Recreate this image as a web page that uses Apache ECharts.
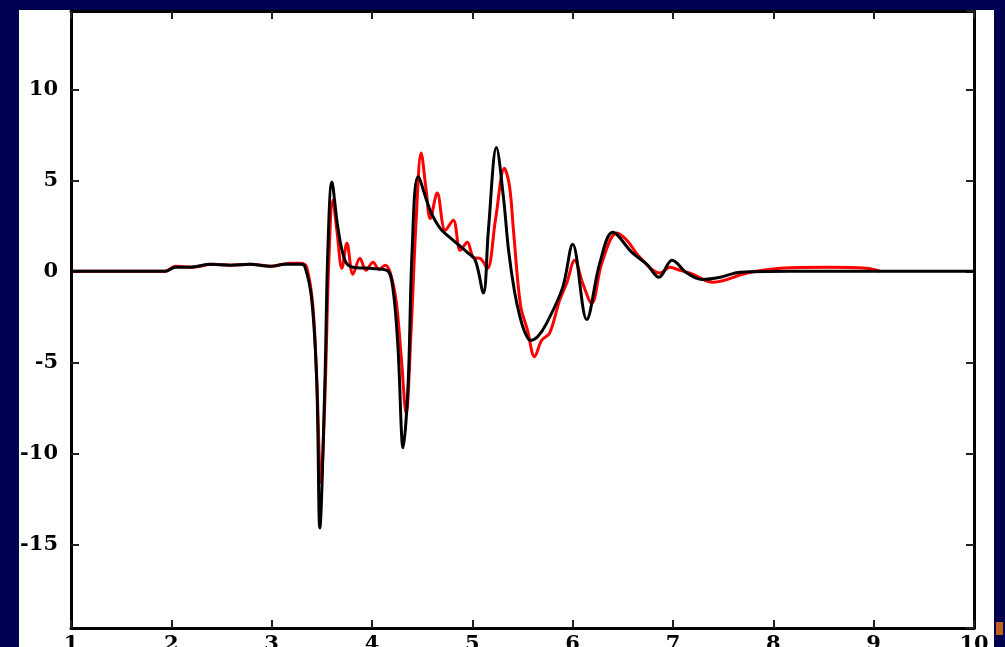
<!DOCTYPE html>
<html>
<head>
<meta charset="utf-8">
<script src="https://cdn.jsdelivr.net/npm/echarts@6/dist/echarts.min.js"></script>
<style>
html,body{margin:0;padding:0;background:#000050;}
#c{width:1005px;height:647px;}
</style>
</head>
<body>
<div id="c"></div>
<script>
var xBlack = [1.00,1.94,2.04,2.19,2.39,2.58,2.78,2.98,3.13,3.28,3.33,3.40,3.45,3.48,3.53,3.56,3.60,3.66,3.73,3.81,3.98,4.15,4.21,4.26,4.31,4.36,4.40,4.46,4.58,4.68,4.81,4.95,5.03,5.11,5.16,5.24,5.31,5.36,5.42,5.47,5.52,5.58,5.65,5.74,5.90,6.00,6.14,6.27,6.40,6.59,6.74,6.86,6.99,7.14,7.29,7.47,7.67,8.17,10.00];
var yBlack = [0,0,0.22,0.22,0.38,0.33,0.38,0.27,0.38,0.38,0.27,-1.6,-6.2,-14.1,-6.2,1.15,4.9,2.4,0.6,0.22,0.16,0.05,-1.0,-4.3,-9.7,-6.2,1.15,5.2,3.35,2.36,1.7,1.04,0.6,-1.2,2.25,6.8,4.07,1.2,-1.1,-2.4,-3.3,-3.8,-3.6,-2.86,-0.9,1.48,-2.65,0.44,2.14,1.04,0.38,-0.33,0.6,-0.1,-0.45,-0.33,-0.05,0,0];

var xRed = [1.00,1.94,2.04,2.21,2.41,2.60,2.80,3.00,3.18,3.30,3.35,3.41,3.45,3.49,3.53,3.57,3.61,3.65,3.70,3.75,3.81,3.88,3.94,4.01,4.07,4.13,4.18,4.24,4.29,4.34,4.39,4.44,4.49,4.54,4.58,4.65,4.73,4.81,4.88,4.95,5.01,5.08,5.15,5.23,5.32,5.37,5.41,5.48,5.55,5.62,5.69,5.77,5.87,5.94,6.02,6.10,6.19,6.29,6.44,6.54,6.67,6.87,6.97,7.07,7.17,7.40,7.74,8.07,8.56,8.93,9.06];
var yRed = [0,0,0.27,0.22,0.38,0.33,0.38,0.27,0.44,0.44,0.22,-1.87,-6.0,-11.6,-7.1,0.6,3.9,2.25,0.16,1.54,-0.16,0.71,0.05,0.5,0.1,0.33,-0.05,-1.6,-4.6,-7.8,-3.2,2.8,6.5,4.45,2.9,4.3,2.25,2.8,1.15,1.6,0.77,0.7,0.16,2.8,5.66,4.7,2.25,-1.87,-3.24,-4.7,-3.8,-3.4,-1.6,-0.66,0.6,-0.66,-1.76,0.44,2.1,1.7,0.77,-0.1,0.22,0.05,-0.1,-0.6,-0.1,0.16,0.22,0.16,0];

var xTicks = [1,2,3,4,5,6,7,8,9,10];
var yTicks = [-15,-10,-5,0,5,10];

function zip(xs, ys){ var o=[]; for(var i=0;i<xs.length;i++){ o.push([xs[i], ys[i]]); } return o; }

var chart = echarts.init(document.getElementById('c'), null, {renderer:'canvas'});
var labelFont = {fontFamily:'DejaVu Serif', fontWeight:'bold', fontSize:21, color:'#000'};
function axisLine(){ return {show:true, onZero:false, lineStyle:{color:'#000', width:3}}; }
function axisTick(){ return {show:true, inside:true, length:8, lineStyle:{color:'#222', width:2}}; }
chart.setOption({
  backgroundColor:'#000050',
  animation:false,
  graphic:[
    {type:'rect', z:-10, shape:{x:19, y:10, width:975, height:640}, style:{fill:'#ffffff'}},
    {type:'rect', z:10, shape:{x:996, y:622, width:7, height:13}, style:{fill:'#c0601a'}}
  ],
  grid:{left:71, top:11, right:31, bottom:19, containLabel:false, outerBoundsMode:'none'},
  xAxis:[
    {type:'value', min:1, max:10, interval:1, position:'bottom',
      axisLine:axisLine(), axisTick:axisTick(), splitLine:{show:false},
      axisLabel:Object.assign({margin:6, formatter:function(v){return xTicks.indexOf(v)>=0?String(v):'';}}, labelFont)},
    {type:'value', min:1, max:10, interval:1, position:'top',
      axisLine:axisLine(), axisTick:axisTick(), splitLine:{show:false}, axisLabel:{show:false}}
  ],
  yAxis:[
    {type:'value', min:-19.6, max:14.3, splitNumber:7, position:'left',
      axisLine:axisLine(), axisTick:axisTick(), splitLine:{show:false},
      axisLabel:Object.assign({margin:13, showMinLabel:false, showMaxLabel:false, formatter:function(v){return yTicks.indexOf(v)>=0?String(v):'';}}, labelFont)},
    {type:'value', min:-19.6, max:14.3, splitNumber:7, position:'right',
      axisLine:axisLine(), axisTick:axisTick(), splitLine:{show:false}, axisLabel:{show:false}}
  ],
  series:[
    {type:'line', data:zip(xRed,yRed), showSymbol:false, smooth:0.35, lineStyle:{color:'#ff0000', width:3}, z:2},
    {type:'line', data:zip(xBlack,yBlack), showSymbol:false, smooth:0.35, lineStyle:{color:'#000000', width:3}, z:3}
  ]
});
</script>
</body>
</html>
